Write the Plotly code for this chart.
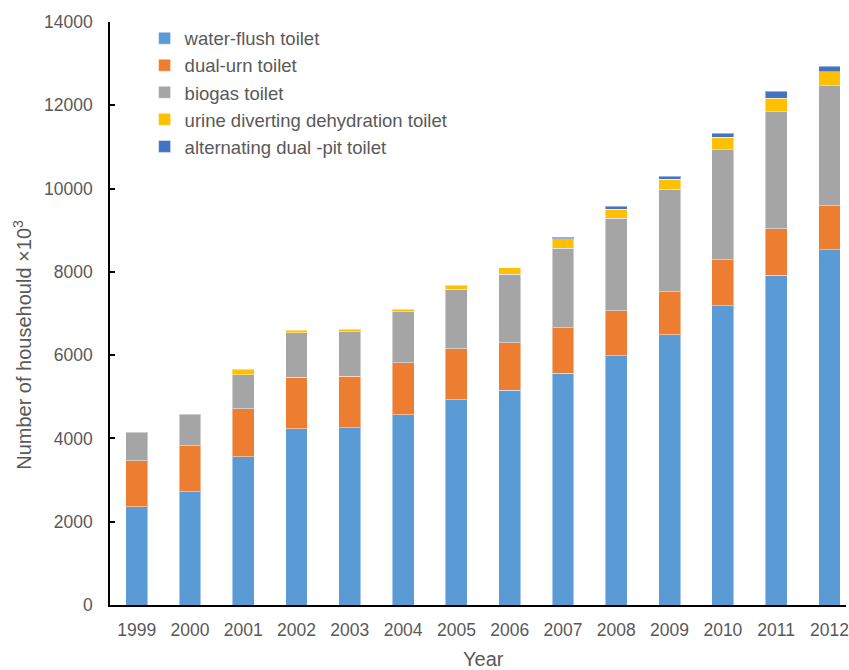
import plotly.graph_objects as go

years = ["1999", "2000", "2001", "2002", "2003", "2004", "2005", "2006",
         "2007", "2008", "2009", "2010", "2011", "2012"]
water_flush = [2360, 2720, 3561, 4233, 4257, 4569, 4929, 5155, 5563, 5986, 6490, 7187, 7923, 8531]
dual_urn = [1105, 1105, 1153, 1233, 1233, 1249, 1225, 1143, 1096, 1081, 1033, 1104, 1112, 1056]
biogas = [680, 753, 816, 1072, 1072, 1225, 1426, 1642, 1913, 2218, 2458, 2641, 2809, 2882]
urine_diverting = [None, None, 128, 65, 65, 64, 103, 159, 223, 223, 248, 305, 329, 337]
alternating = [None, None, None, None, None, None, None, None, 34, 65, 64, 96, 161, 128]

series = [
    ("water-flush toilet", water_flush, "#5B9BD5"),
    ("dual-urn toilet", dual_urn, "#ED7D31"),
    ("biogas toilet", biogas, "#A5A5A5"),
    ("urine diverting dehydration toilet", urine_diverting, "#FFC000"),
    ("alternating dual -pit toilet", alternating, "#4472C4"),
]

fig = go.Figure()
for i, (name, vals, col) in enumerate(series):
    fig.add_trace(go.Bar(
        x=years, y=vals, name=name, legendgroup=f"g{i}",
        marker=dict(color=col, line=dict(color="rgba(255,255,255,0.45)", width=1)),
    ))

font_family = "Liberation Sans, Arial, sans-serif"
fig.update_layout(
    width=849, height=670,
    margin=dict(l=110, r=0, t=22, b=65),
    barmode="stack", bargap=0.59,
    plot_bgcolor="white", paper_bgcolor="white",
    font=dict(family=font_family, color="#595959", size=17.5),
    showlegend=True,
    legend=dict(
        x=0.047, y=1.004, xanchor="left", yanchor="top",
        traceorder="normal", tracegroupgap=5,
        font=dict(size=18.5, color="#595959"),
        bgcolor="rgba(0,0,0,0)", itemwidth=30,
    ),
    xaxis=dict(
        type="category", range=[-0.5, 13.31],
        showline=True, linecolor="black", linewidth=1.5,
        ticks="", showgrid=False, ticklabelstandoff=8,
        tickfont=dict(size=17.5, color="#595959"),
    ),
    yaxis=dict(
        range=[0, 14000], tickvals=[0, 2000, 4000, 6000, 8000, 10000, 12000, 14000],
        ticktext=["0", "2000", "4000", "6000", "8000", "10000", "12000", "14000"],
        showline=True, linecolor="black", linewidth=1.5,
        ticks="inside", ticklen=5, tickwidth=1.5, tickcolor="black",
        showgrid=False, zeroline=False, ticklabelstandoff=12,
        tickfont=dict(size=17.5, color="#595959"),
    ),
    annotations=[
        dict(text="Year", xref="paper", yref="paper", x=0.507, y=-0.093,
             xanchor="center", yanchor="middle", showarrow=False,
             font=dict(size=20, color="#595959")),
        dict(text="Number of househould \u00d710<sup>3</sup>", xref="paper", yref="paper",
             x=-0.119, y=0.447, xanchor="center", yanchor="middle", textangle=-90,
             showarrow=False, font=dict(size=20, color="#595959")),
    ],
)

fig.write_html("out.html")
